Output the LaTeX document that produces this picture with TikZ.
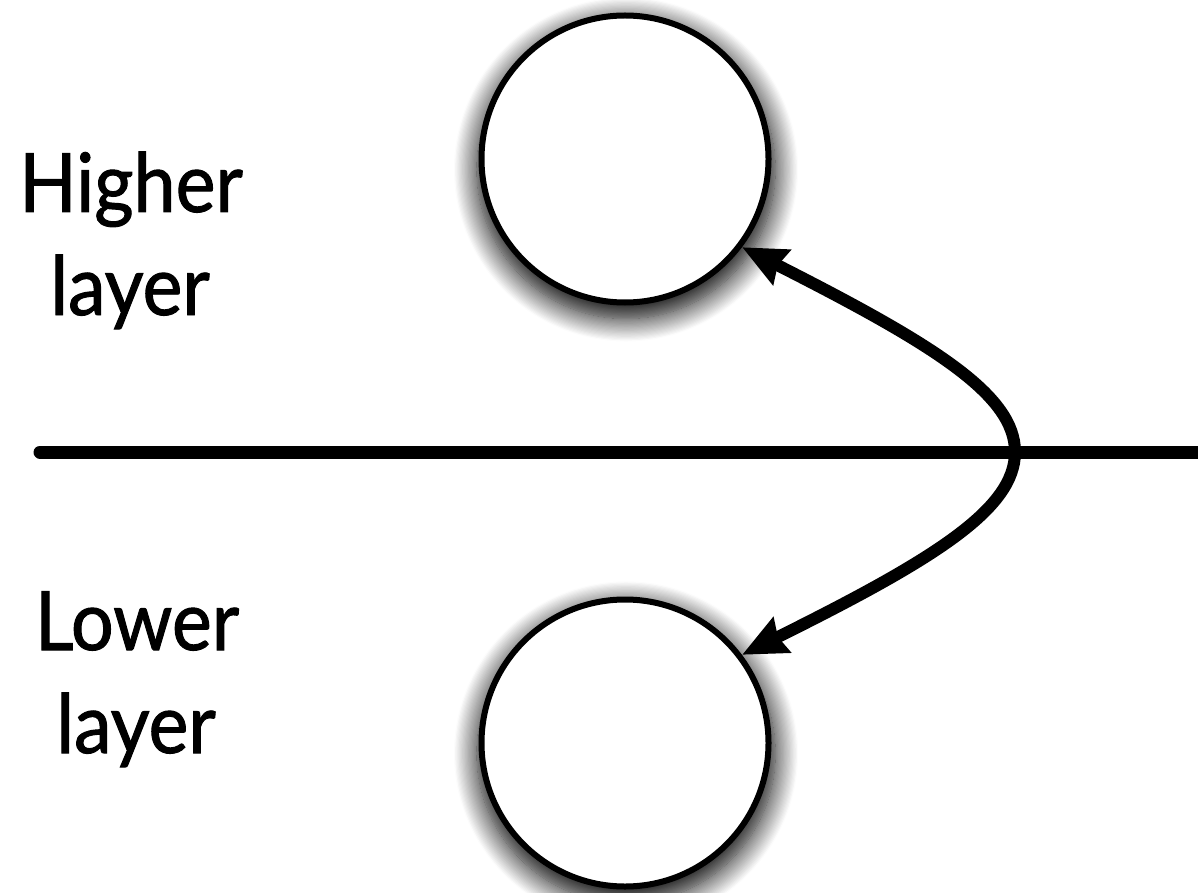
\documentclass[tikz,border=0pt]{standalone}
\usepackage{fontspec}
\setmainfont{Lato}[FakeStretch=0.92,FakeBold=1.2]
\usetikzlibrary{arrows.meta,shadows.blur}
\begin{document}
\begin{tikzpicture}[x=1pt,y=-1pt,
  layer/.style={circle,draw=black,line width=6pt,fill=white,minimum size=287pt,inner sep=0pt,
    blur shadow={shadow xshift=1pt,shadow yshift=-10pt,shadow scale=1.04,shadow blur radius=22pt,shadow blur steps=20,shadow opacity=100}},
  lbl/.style={anchor=base,font=\fontsize{82}{100}\selectfont,inner sep=0pt},
  conn/.style={line width=12pt,{Stealth[length=44pt,width=38pt,inset=4pt]}-{Stealth[length=44pt,width=38pt,inset=4pt]}}
]
\useasboundingbox (0,0) rectangle (1198,893);
\coordinate (l0) at (40,452);
\coordinate (l1) at (1215,452);
\draw[line width=13pt,line cap=round] (l0) -- (l1);
\node[layer] (hi) at (625,159) {};
\node[layer] (lo) at (625,743) {};
\node[lbl] (t1) at (131,212) {Higher};
\node[lbl] (t2) at (130,315) {layer};
\node[lbl] (t3) at (137,650) {Lower};
\node[lbl] (t4) at (136,753) {layer};
\coordinate (turn) at (1015,452);
\draw[conn] (hi.-37) .. controls (935,345) and (1015,395) .. (turn)
  .. controls (1015,509) and (935,559) .. (lo.37);
\end{tikzpicture}
\end{document}
